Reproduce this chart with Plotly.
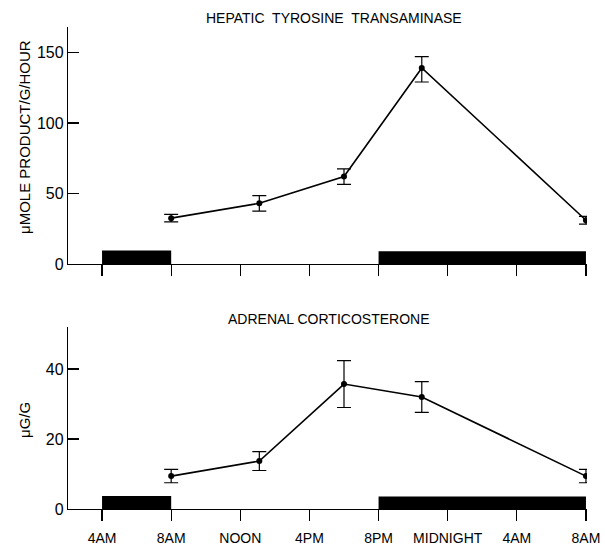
import plotly.graph_objects as go

# hours after 4AM
tick_hours = [0, 4, 8, 12, 16, 20, 24, 28]
tick_labels = ["4AM", "8AM", "NOON", "4PM", "8PM", "MIDNIGHT", "4AM", "8AM"]

sample_hours = [4, 9.1, 14, 18.5, 28]

tat_values = [32.5, 43, 62, 139, 31]
tat_err_plus = [2.7, 5.5, 5.5, 8, 2.7]
tat_err_minus = [2.7, 5.5, 5.5, 10, 2.7]

cort_values = [9.4, 13.7, 35.7, 32, 9.4]
cort_err = [1.9, 2.7, 6.7, 4.4, 1.9]

dark_start = [0, 16]
dark_end = [4, 28]
dark_top_tat = [9.5, 9.0]
dark_top_cort = [3.7, 3.6]

W, H = 605, 548
FONT = "Liberation Sans, Arial, sans-serif"

fig = go.Figure()
fig.add_trace(go.Scatter(
    x=sample_hours, y=tat_values, mode="lines+markers",
    line=dict(color="black", width=1.6),
    marker=dict(color="black", size=6),
    error_y=dict(type="data", array=tat_err_plus, arrayminus=tat_err_minus,
                 symmetric=False, color="black", thickness=1.2, width=7),
    xaxis="x", yaxis="y", showlegend=False))
fig.add_trace(go.Scatter(
    x=sample_hours, y=cort_values, mode="lines+markers",
    line=dict(color="black", width=1.6),
    marker=dict(color="black", size=6),
    error_y=dict(type="data", array=cort_err, color="black", thickness=1.2, width=7),
    xaxis="x2", yaxis="y2", showlegend=False))

shapes = []
for s, e, t in zip(dark_start, dark_end, dark_top_tat):
    shapes.append(dict(type="rect", xref="x", yref="y", x0=s, x1=e, y0=-1, y1=t,
                       fillcolor="black", line=dict(width=0), layer="above"))
for s, e, t in zip(dark_start, dark_end, dark_top_cort):
    shapes.append(dict(type="rect", xref="x2", yref="y2", x0=s, x1=e, y0=-0.3, y1=t,
                       fillcolor="black", line=dict(width=0), layer="above"))

xr = [-1.97, 28.06]
common_x = dict(range=xr, tickvals=tick_hours, showline=True, linecolor="black",
                linewidth=1.2, ticks="outside", ticklen=11, tickwidth=1.3,
                tickcolor="black", showgrid=False, zeroline=False)
common_y = dict(showline=True, linecolor="black", linewidth=1.2, ticks="inside",
                ticklen=11, tickwidth=1.3, tickcolor="black", showgrid=False,
                zeroline=False, tickfont=dict(size=16, color="black", family=FONT))

fig.update_layout(
    width=W, height=H,
    margin=dict(l=68, r=18, t=0, b=0),
    paper_bgcolor="white", plot_bgcolor="white",
    font=dict(family=FONT, color="black"),
    shapes=shapes,
    xaxis=dict(**common_x, anchor="y", showticklabels=False,
               domain=[0, 1]),
    yaxis=dict(**common_y, range=[0, 168], tickvals=[0, 50, 100, 150],
               domain=[1 - 264 / H, 1 - 27 / H], anchor="x"),
    xaxis2=dict(**common_x, anchor="y2", ticktext=tick_labels, ticklabelstandoff=5,
                tickfont=dict(size=14, color="black", family=FONT)),
    yaxis2=dict(**common_y, range=[0, 52], tickvals=[0, 20, 40],
                domain=[1 - 509 / H, 1 - 327 / H], anchor="x2"),
    annotations=[
        dict(text="HEPATIC\u00a0 TYROSINE\u00a0 TRANSAMINASE", xref="paper", yref="paper",
             x=(334 - 68) / (W - 86), y=1 - 18 / H, showarrow=False,
             xanchor="center", yanchor="middle", font=dict(size=14)),
        dict(text="ADRENAL CORTICOSTERONE", xref="paper", yref="paper",
             x=(328 - 68) / (W - 86), y=1 - 319 / H, showarrow=False,
             xanchor="center", yanchor="middle", font=dict(size=14)),
        dict(text="μMOLE PRODUCT/G/HOUR", xref="paper", yref="paper",
             x=(24 - 68) / (W - 86), y=1 - 137 / H, showarrow=False,
             textangle=-90, xanchor="center", yanchor="middle", font=dict(size=15)),
        dict(text="μG/G", xref="paper", yref="paper",
             x=(24 - 68) / (W - 86), y=1 - 420 / H, showarrow=False,
             textangle=-90, xanchor="center", yanchor="middle", font=dict(size=15)),
    ],
)
fig.update_xaxes(automargin=False)
fig.update_yaxes(automargin=False)

fig.write_html("out.html", config={"displayModeBar": False, "staticPlot": True},
               post_script="document.body.style.margin='0';document.body.style.overflow='hidden';")
